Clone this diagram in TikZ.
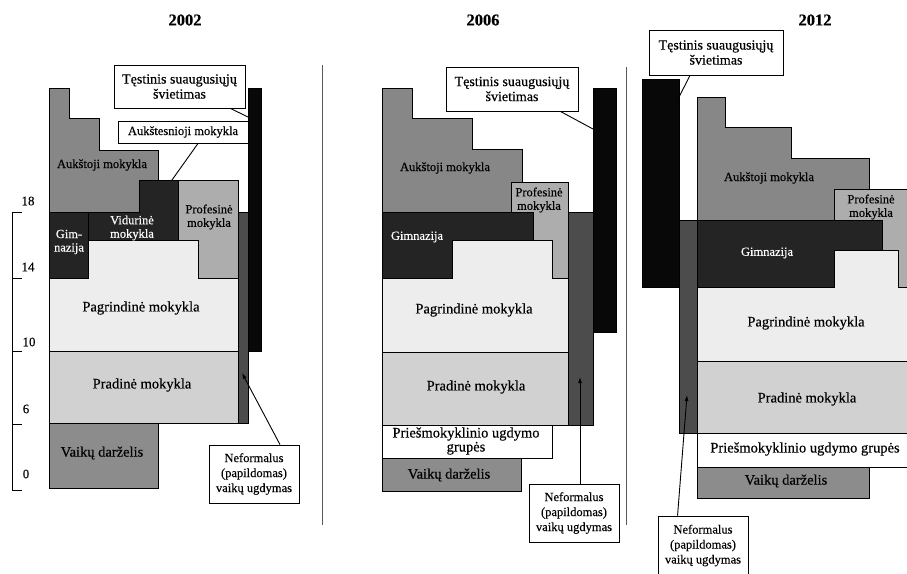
\documentclass[tikz,border=0pt]{standalone}
\usepackage{fontspec}
\setmainfont{Liberation Serif}[FakeBold=0.35]
\usetikzlibrary{arrows.meta,calc}
\definecolor{cHigh}{gray}{0.53}
\definecolor{cProf}{gray}{0.68}
\definecolor{cDark}{gray}{0.14}
\definecolor{cNef}{gray}{0.30}
\definecolor{cPag}{gray}{0.93}
\definecolor{cPrad}{gray}{0.82}
\definecolor{cKind}{gray}{0.55}
\definecolor{cBar}{gray}{0.03}
\definecolor{cDiv}{gray}{0.35}
\tikzset{
  reg/.style={draw=black, line width=0.8pt},
  lbl/.style={font=\fontsize{14.5}{15}\selectfont, align=center, inner sep=0pt},
  slbl/.style={font=\fontsize{12.5}{13.5}\selectfont, align=center, inner sep=0pt},
  wlbl/.style={font=\fontsize{12.5}{13.5}\selectfont, align=center, inner sep=0pt, text=white},
  callout/.style={draw=black, line width=0.9pt, fill=white, align=center, inner sep=0pt},
  bigtext/.style={font=\fontsize{14}{15}\selectfont},
  smalltext/.style={font=\fontsize{12.5}{15}\selectfont},
  lead/.style={line width=0.9pt},
  arr/.style={line width=0.9pt, -{Latex[length=6pt,width=4pt]}},
  yeartitle/.style={font=\bfseries\fontsize{16.5}{18}\selectfont, inner sep=0pt},
  axisline/.style={line width=0.9pt},
  axl/.style={font=\fontsize{13}{14}\selectfont, inner sep=0pt},
  divl/.style={draw=cDiv, line width=0.8pt},
}
\begin{document}
\begin{tikzpicture}[x=1pt,y=-1pt]
\useasboundingbox (0,0) rectangle (907,573);
\fill[white] (0,0) rectangle (907,573);
\clip (0,0) rectangle (907,573);

% ---------------- 2002 ----------------
\node[yeartitle] (t1) at (185,20) {2002};
\draw[reg,fill=cHigh] (49,88) -- (69,88) -- (69,118) -- (99,118) -- (99,150) -- (158,150) -- (158,180) -- (139,180) -- (139,212) -- (49,212) -- cycle;
\draw[reg,fill=cDark] (139,180) -- (178,180) -- (178,240) -- (88,240) -- (88,212) -- (139,212) -- cycle;
\draw[reg,fill=cDark] (49,212) rectangle (88,278);
\draw[reg,fill=cProf] (178,180) -- (238,180) -- (238,278) -- (198,278) -- (198,240) -- (178,240) -- cycle;
\draw[reg,fill=cPag] (88,240) -- (198,240) -- (198,278) -- (238,278) -- (238,351) -- (49,351) -- (49,278) -- (88,278) -- cycle;
\draw[reg,fill=cPrad] (49,351) rectangle (238,423);
\draw[reg,fill=cKind] (49,423) rectangle (158,488);
\draw[reg,fill=cNef] (238,212) rectangle (248,423);
\draw[reg,fill=cBar] (248,88) rectangle (261,351);

\node[slbl] (a1) at (102,165) {Aukštoji mokykla};
\node[wlbl] (v1) at (132,228) {Vidurinė\\mokykla};
\node[wlbl] (g1) at (69,242) {Gim-\\nazija};
\node[slbl] (p1) at (209,217) {Profesinė\\mokykla};
\node[lbl] (pg1) at (141,308) {Pagrindinė mokykla};
\node[lbl] (pr1) at (142,385) {Pradinė mokykla};
\node[lbl] (vd1) at (102,453) {Vaikų darželis};

\node[callout,bigtext,minimum width=131pt,minimum height=43pt] (ts1) at (179.5,86.5) {Tęstinis suaugusiųjų\\švietimas};
\coordinate (ts1t) at (248,117);
\draw[lead] ($(ts1.south east)+(-15,0)$) -- (ts1t);

\node[callout,smalltext,minimum width=130pt,minimum height=22pt] (ak1) at (183,132) {Aukštesnioji mokykla};
\coordinate (ak1t) at (172,180);
\draw[lead] ($(ak1.south)+(15,0)$) -- (ak1t);

\node[callout,smalltext,minimum width=90pt,minimum height=58pt] (nf1) at (254,474) {Neformalus\\(papildomas)\\vaikų ugdymas};
\coordinate (nf1t) at (242,373);
\draw[arr] ($(nf1.north)+(26,0)$) -- (nf1t);

% axis
\draw[axisline] (22,212) -- (12,212) -- (12,490) -- (22,490);
\draw[axisline] (12,278) -- (22,278);
\draw[axisline] (12,351) -- (22,351);
\draw[axisline] (12,424) -- (22,424);
\node[axl] (l18) at (28,201) {18};
\node[axl] (l14) at (28,267) {14};
\node[axl] (l10) at (29,342) {10};
\node[axl] (l6) at (26,409) {6};
\node[axl] (l0) at (26,474) {0};

% dividers
\draw[divl] (322,65) -- (322,525);
\draw[divl] (626,67) -- (626,525);

% ---------------- 2006 ----------------
\node[yeartitle] (t2) at (483,20) {2006};
\draw[reg,fill=cHigh] (382,88) -- (412,88) -- (412,118) -- (472,118) -- (472,149) -- (522,149) -- (522,212) -- (382,212) -- cycle;
\draw[reg,fill=cProf] (511,182) -- (568,182) -- (568,278) -- (552,278) -- (552,240) -- (533,240) -- (533,212) -- (511,212) -- cycle;
\draw[reg,fill=cDark] (382,212) -- (533,212) -- (533,240) -- (452,240) -- (452,278) -- (382,278) -- cycle;
\draw[reg,fill=cPag] (452,240) -- (552,240) -- (552,278) -- (568,278) -- (568,352) -- (382,352) -- (382,278) -- (452,278) -- cycle;
\draw[reg,fill=cPrad] (382,352) rectangle (568,425);
\draw[reg,fill=white] (382,425) rectangle (552,458);
\draw[reg,fill=cKind] (382,458) rectangle (521,491);
\draw[reg,fill=cNef] (568,212) rectangle (593,425);
\draw[reg,fill=cBar] (593,88) rectangle (616,332);

\node[slbl] (a2) at (445,168) {Aukštoji mokykla};
\node[slbl] (p2) at (539,200) {Profesinė\\mokykla};
\node[wlbl] (g2) at (417,237) {Gimnazija};
\node[lbl] (pg2) at (474,310) {Pagrindinė mokykla};
\node[lbl] (pr2) at (476,387) {Pradinė mokykla};
\node[lbl,font=\fontsize{14.5}{14}\selectfont] (pm2) at (466,441) {Priešmokyklinio ugdymo\\grupės};
\node[lbl] (vd2) at (449,475) {Vaikų darželis};

\node[callout,bigtext,minimum width=132pt,minimum height=44pt] (ts2) at (512,89) {Tęstinis suaugusiųjų\\švietimas};
\coordinate (ts2t) at (593,129);
\draw[lead] ($(ts2.south east)+(-18,0)$) -- (ts2t);

\node[callout,smalltext,minimum width=90pt,minimum height=58pt] (nf2) at (574,513) {Neformalus\\(papildomas)\\vaikų ugdymas};
\coordinate (nf2t) at (580,377);
\draw[arr] (nf2.north -| nf2t) -- (nf2t);

% ---------------- 2012 ----------------
\node[yeartitle] (t3) at (815,20) {2012};
\draw[reg,fill=cBar] (642,79) rectangle (679,287);
\draw[reg,fill=cNef] (679,220) rectangle (697,433);
\draw[reg,fill=cHigh] (697,97) -- (725,97) -- (725,127) -- (791,127) -- (791,158) -- (869,158) -- (869,220) -- (697,220) -- cycle;
\draw[reg,fill=cProf] (834,189) -- (915,189) -- (915,287) -- (898,287) -- (898,250) -- (882,250) -- (882,220) -- (834,220) -- cycle;
\draw[reg,fill=cDark] (697,220) -- (882,220) -- (882,250) -- (834,250) -- (834,287) -- (697,287) -- cycle;
\draw[reg,fill=cPag] (834,250) -- (898,250) -- (898,287) -- (915,287) -- (915,361) -- (697,361) -- (697,287) -- (834,287) -- cycle;
\draw[reg,fill=cPrad] (697,361) rectangle (915,433);
\draw[reg,fill=white] (697,433) rectangle (915,467);
\draw[reg,fill=cKind] (697,467) rectangle (869,498);

\node[slbl] (a3) at (769,178) {Aukštoji mokykla};
\node[slbl] (p3) at (871,207) {Profesinė\\mokykla};
\node[wlbl] (g3) at (767,253) {Gimnazija};
\node[lbl] (pg3) at (806,323) {Pagrindinė mokykla};
\node[lbl] (pr3) at (807,399) {Pradinė mokykla};
\node[lbl] (pm3) at (805,449) {Priešmokyklinio ugdymo grupės};
\node[lbl] (vd3) at (786,481) {Vaikų darželis};

\node[callout,bigtext,minimum width=134pt,minimum height=45pt] (ts3) at (716,52.5) {Tęstinis suaugusiųjų\\švietimas};
\coordinate (ts3t) at (678,99);
\draw[lead] ($(ts3.south)+(-26,0)$) -- (ts3t);

\node[callout,smalltext,minimum width=90pt,minimum height=59pt] (nf3) at (703,545.5) {Neformalus\\(papildomas)\\vaikų ugdymas};
\coordinate (nf3t) at (687,395);
\draw[arr] ($(nf3.north west)+(20,0)$) -- (nf3t);
\end{tikzpicture}
\end{document}
